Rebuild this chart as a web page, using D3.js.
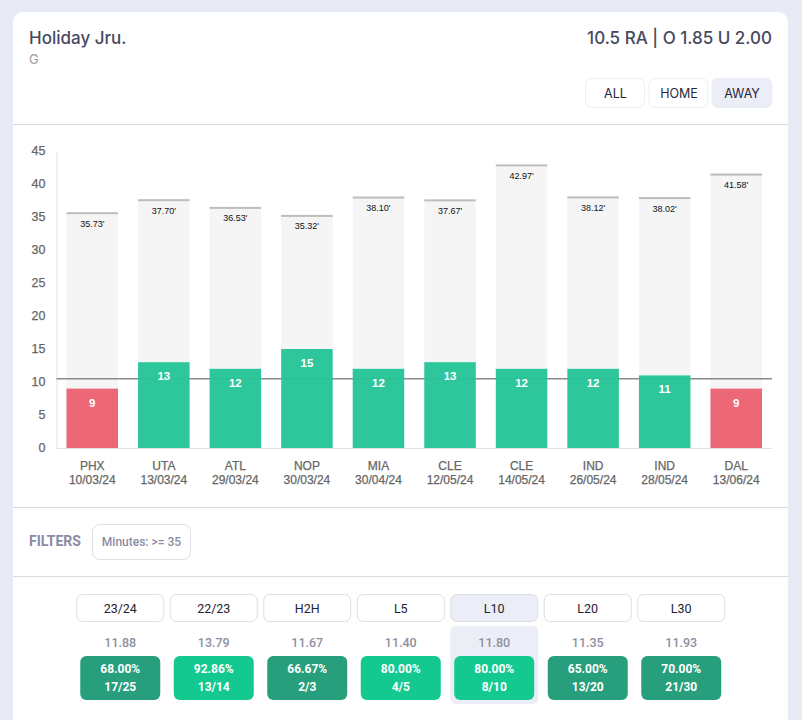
<!DOCTYPE html>
<html>
<head>
<meta charset="utf-8">
<script src="https://cdn.jsdelivr.net/npm/d3@7"></script>
<style>
  html, body { margin: 0; padding: 0; background: #e8ebf5; overflow: hidden; }
  svg { display: block; }
  .ui { font-family: Inter, sans-serif; }
  .rb { font-family: Roboto, sans-serif; }
  .chart text { font-family: "Liberation Sans", Arial, sans-serif; }
</style>
</head>
<body>
<svg width="802" height="720"></svg>
<script>
// chart data
const teams = ['PHX', 'UTA', 'ATL', 'NOP', 'MIA', 'CLE', 'CLE', 'IND', 'IND', 'DAL'];
const dates = ['10/03/24', '13/03/24', '29/03/24', '30/03/24', '30/04/24', '12/05/24', '14/05/24', '26/05/24', '28/05/24', '13/06/24'];
const assists = [9, 13, 12, 15, 12, 13, 12, 12, 11, 9];
const minutes = [35.73, 37.70, 36.53, 35.32, 38.10, 37.67, 42.97, 38.12, 38.02, 41.58];
const yTicks = [0, 5, 10, 15, 20, 25, 30, 35, 40, 45];
const lineValue = 10.5;

// summary table data
const venues = ['ALL', 'HOME', 'AWAY'];
const ranges = ['23/24', '22/23', 'H2H', 'L5', 'L10', 'L20', 'L30'];
const averages = ['11.88', '13.79', '11.67', '11.40', '11.80', '11.35', '11.93'];
const hitRates = [68.00, 92.86, 66.67, 80.00, 80.00, 65.00, 70.00];
const hitCounts = ['17/25', '13/14', '2/3', '4/5', '8/10', '13/20', '21/30'];

const svg = d3.select('svg');

// card
svg.append('path')
  .attr('d', 'M13,730 V22 a10,10 0 0 1 10,-10 H778 a10,10 0 0 1 10,10 V730 Z')
  .attr('fill', '#fff');

svg.selectAll('line.sep')
  .data([124.5, 507.5, 576.5])
  .join('line')
  .attr('class', 'sep')
  .attr('x1', 13).attr('x2', 788)
  .attr('y1', d => d).attr('y2', d => d)
  .attr('stroke', '#dcdcdf');

// header
const header = svg.append('g').attr('class', 'ui');
header.append('text').attr('x', 29).attr('y', 44)
  .attr('font-size', 17).attr('font-weight', 500).attr('fill', '#464960')
  .text('Holiday Jru.');
header.append('text').attr('x', 29).attr('y', 64)
  .attr('font-size', 13).attr('fill', '#9a9aa8')
  .text('G');
header.append('text').attr('x', 772).attr('y', 44)
  .attr('text-anchor', 'end')
  .attr('font-size', 17).attr('font-weight', 500).attr('fill', '#464960')
  .text('10.5 RA | O 1.85 U 2.00');

// venue buttons
const venueX = d3.scaleOrdinal().domain(venues).range([585.5, 649, 712]);
const venueG = header.selectAll('g.venue')
  .data(venues)
  .join('g')
  .attr('class', 'venue')
  .attr('transform', d => `translate(${venueX(d)}, 78.5)`);
venueG.append('rect')
  .attr('width', d => d === 'AWAY' ? 60 : 59).attr('height', 29).attr('rx', 6)
  .attr('fill', d => d === 'AWAY' ? '#ebedf7' : '#fff')
  .attr('stroke', d => d === 'AWAY' ? '#ebedf7' : '#eeeef2');
venueG.append('text')
  .attr('x', 30).attr('y', 19)
  .attr('text-anchor', 'middle')
  .attr('font-size', 12.5).attr('fill', '#26283a')
  .text(d => d);

// plot
const xScale = d3.scaleBand()
  .domain(d3.range(teams.length))
  .range([56.5, 772])
  .paddingInner(0.28)
  .paddingOuter(0.14);

const yScale = d3.scaleLinear()
  .domain([0, 45])
  .range([448, 151]);

const chart = svg.append('g').attr('class', 'chart');

// y axis
const yAxisG = chart.append('g')
  .attr('transform', 'translate(56.5, 0)')
  .call(d3.axisLeft(yScale).tickValues(yTicks).tickSize(0).tickPadding(11));
yAxisG.select('.domain').attr('stroke', '#e2e2e4');
yAxisG.selectAll('text')
  .attr('y', -0.8)
  .attr('font-size', 12.5)
  .attr('fill', '#666')
  .attr('stroke', '#666')
  .attr('stroke-width', 0.25);

// baseline
chart.append('line')
  .attr('x1', 56.5).attr('x2', 772)
  .attr('y1', yScale(0) + 0.5).attr('y2', yScale(0) + 0.5)
  .attr('stroke', '#e2e2e4');

// minutes bars
chart.selectAll('rect.minutes')
  .data(minutes)
  .join('rect')
  .attr('class', 'minutes')
  .attr('x', (d, i) => xScale(i))
  .attr('y', d => yScale(d))
  .attr('width', xScale.bandwidth())
  .attr('height', d => yScale(0) - yScale(d))
  .attr('fill', '#f5f5f6');

chart.selectAll('rect.minutes-top')
  .data(minutes)
  .join('rect')
  .attr('class', 'minutes-top')
  .attr('x', (d, i) => xScale(i))
  .attr('y', d => yScale(d))
  .attr('width', xScale.bandwidth())
  .attr('height', 2)
  .attr('fill', '#bdbdbd');

chart.selectAll('text.minutes-label')
  .data(minutes)
  .join('text')
  .attr('class', 'minutes-label')
  .attr('x', (d, i) => xScale(i) + xScale.bandwidth() / 2)
  .attr('y', d => yScale(d) + 14.5)
  .attr('text-anchor', 'middle')
  .attr('font-size', 9)
  .attr('fill', '#111')
  .text(d => d.toFixed(2) + "'");

// line for the prop, under the bars so it only shows faintly through them
chart.append('line')
  .attr('x1', 56.5).attr('x2', 772)
  .attr('y1', yScale(lineValue)).attr('y2', yScale(lineValue))
  .attr('stroke', '#8a8a8a')
  .attr('stroke-width', 1.5);

chart.selectAll('rect.assists')
  .data(assists)
  .join('rect')
  .attr('class', 'assists')
  .attr('x', (d, i) => xScale(i))
  .attr('y', d => yScale(d))
  .attr('width', xScale.bandwidth())
  .attr('height', d => yScale(0) - yScale(d))
  .attr('fill', d => d > lineValue ? '#27c598' : '#eb6373')
  .attr('fill-opacity', 0.97);

chart.selectAll('text.assists-label')
  .data(assists)
  .join('text')
  .attr('class', 'assists-label')
  .attr('x', (d, i) => xScale(i) + xScale.bandwidth() / 2)
  .attr('y', d => yScale(d) + 18)
  .attr('text-anchor', 'middle')
  .attr('font-size', 11.5)
  .attr('font-weight', 700)
  .attr('fill', '#fff')
  .text(d => d);

// x labels
const xLabels = chart.selectAll('g.x-label')
  .data(teams)
  .join('g')
  .attr('class', 'x-label')
  .attr('transform', (d, i) => `translate(${xScale(i) + xScale.bandwidth() / 2}, 0)`);
xLabels.append('text')
  .attr('y', 470)
  .attr('text-anchor', 'middle')
  .attr('font-size', 12).attr('fill', '#666')
  .attr('stroke', '#666').attr('stroke-width', 0.25)
  .text(d => d);
xLabels.append('text')
  .attr('y', 484)
  .attr('text-anchor', 'middle')
  .attr('font-size', 12).attr('fill', '#666')
  .attr('stroke', '#666').attr('stroke-width', 0.25)
  .text((d, i) => dates[i]);

// filters
const filters = svg.append('g').attr('class', 'rb');
filters.append('text').attr('x', 29).attr('y', 546)
  .attr('font-size', 14).attr('font-weight', 700).attr('fill', '#8b8ba3')
  .text('FILTERS');
filters.append('rect')
  .attr('x', 92.5).attr('y', 524.5).attr('width', 98).attr('height', 35).attr('rx', 7)
  .attr('fill', '#fff').attr('stroke', '#dedee4');
filters.append('text').attr('x', 141.5).attr('y', 546)
  .attr('text-anchor', 'middle')
  .attr('font-size', 12).attr('font-weight', 500).attr('fill', '#8b8ba3')
  .text('Minutes: >= 35');

// summary columns
const colScale = d3.scaleBand()
  .domain(ranges)
  .range([73.5, 728])
  .paddingInner(0.06)
  .paddingOuter(0.03);
const colW = colScale.bandwidth();

const cols = svg.append('g').attr('class', 'rb')
  .selectAll('g.col')
  .data(ranges)
  .join('g')
  .attr('class', 'col')
  .attr('transform', d => `translate(${colScale(d) + colW / 2}, 0)`);

cols.filter(d => d === 'L10').append('rect')
  .attr('x', -44).attr('y', 626).attr('width', 88).attr('height', 78).attr('rx', 5)
  .attr('fill', '#ebedf7');

cols.append('rect')
  .attr('x', -43.5).attr('y', 594.5).attr('width', 87).attr('height', 27).attr('rx', 6)
  .attr('fill', d => d === 'L10' ? '#ebedf7' : '#fff')
  .attr('stroke', '#dedee4');

cols.append('text')
  .attr('y', 612.5)
  .attr('text-anchor', 'middle')
  .attr('font-size', 12.5).attr('font-weight', 400).attr('fill', '#1f2130')
  .text(d => d);

cols.append('text')
  .attr('y', 647)
  .attr('text-anchor', 'middle')
  .attr('font-size', 12.5).attr('font-weight', 500).attr('fill', '#8f8fa3')
  .text((d, i) => averages[i]);

cols.append('rect')
  .attr('x', -40).attr('y', 656).attr('width', 80).attr('height', 44).attr('rx', 6)
  .attr('fill', (d, i) => hitRates[i] >= 75 ? '#13c98f' : '#279f7c');

cols.append('text')
  .attr('y', 673)
  .attr('text-anchor', 'middle')
  .attr('font-size', 12).attr('font-weight', 700).attr('fill', '#fff')
  .text((d, i) => hitRates[i].toFixed(2) + '%');

cols.append('text')
  .attr('y', 691)
  .attr('text-anchor', 'middle')
  .attr('font-size', 12).attr('font-weight', 700).attr('fill', '#fff')
  .text((d, i) => hitCounts[i]);
</script>
</body>
</html>
